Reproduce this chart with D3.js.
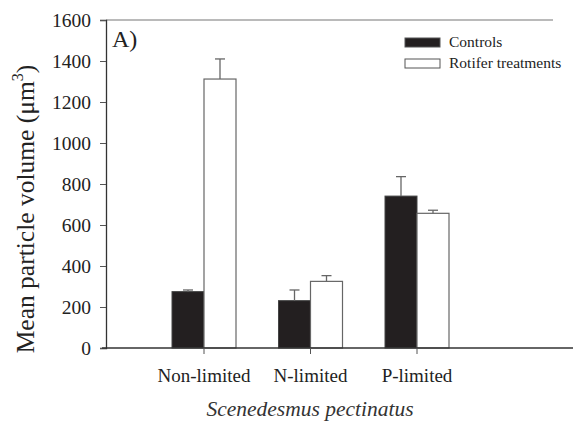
<!DOCTYPE html>
<html>
<head>
<meta charset="utf-8">
<script src="https://cdn.jsdelivr.net/npm/d3@7"></script>
</head>
<body style="margin:0">
<script>
//
// Mean particle volume bar chart
//
const categories = ["Non-limited", "N-limited", "P-limited"]
const seriesNames = ["Controls", "Rotifer treatments"]
const controls = [275, 231, 741]
const controlsErr = [8, 52, 95]
const rotifers = [1312, 325, 657]
const rotifersErr = [98, 28, 15]
const yTicks = [0, 200, 400, 600, 800, 1000, 1200, 1400, 1600]

const width = 573, height = 423
const margin = { left: 106, top: 20, bottom: 75 }
const plotBottom = height - margin.bottom   // 348
const barW = 32
const serif = "'Liberation Serif'"

let svg = d3.select("body")
  .append("svg")
    .attr("width", width)
    .attr("height", height)

// scales
let y = d3.scaleLinear()
  .domain([0, 1600])
  .range([plotBottom, margin.top])

let x = d3.scalePoint()
  .domain(categories)
  .range([204, 417])

// top frame line
svg.append("line")
  .attr("x1", margin.left).attr("x2", 553)
  .attr("y1", y(1600)).attr("y2", y(1600))
  .attr("stroke", "#777").attr("stroke-width", 1.2)

// Y axis
let yAxis = svg.append("g")
  .attr("transform", "translate(" + margin.left + ",0)")
  .call(d3.axisLeft(y).tickValues(yTicks).tickSize(6).tickPadding(9).tickFormat(d3.format("d")))
yAxis.attr("font-family", null).attr("font-size", null)
yAxis.select(".domain").attr("stroke", "#333").attr("stroke-width", 1.3)
yAxis.selectAll(".tick line").attr("stroke", "#555")
yAxis.selectAll(".tick text")
  .style("font-family", serif)
  .style("font-size", "19.5px")
  .attr("fill", "#222")

// bars - controls
svg.selectAll("rect.ctrl")
  .data(controls)
  .enter()
  .append("rect")
    .attr("class", "ctrl")
    .attr("x", function(d, i) { return x(categories[i]) - barW })
    .attr("y", function(d) { return y(d) })
    .attr("width", barW)
    .attr("height", function(d) { return y(0) - y(d) })
    .attr("fill", "#231f20")
    .attr("stroke", "#444")

// bars - rotifer treatments
svg.selectAll("rect.rot")
  .data(rotifers)
  .enter()
  .append("rect")
    .attr("class", "rot")
    .attr("x", function(d, i) { return x(categories[i]) })
    .attr("y", function(d) { return y(d) })
    .attr("width", barW)
    .attr("height", function(d) { return y(0) - y(d) })
    .attr("fill", "#fff")
    .attr("stroke", "#666")
    .attr("stroke-width", 1.2)

// error bars (upper only)
function errorBars(vals, errs, offset) {
  let g = svg.append("g").attr("stroke", "#666").attr("stroke-width", 1.3)
  vals.forEach(function(v, i) {
    const cx = x(categories[i]) + offset
    g.append("line")
      .attr("x1", cx).attr("x2", cx)
      .attr("y1", y(v)).attr("y2", y(v + errs[i]))
    g.append("line")
      .attr("x1", cx - 5).attr("x2", cx + 5)
      .attr("y1", y(v + errs[i])).attr("y2", y(v + errs[i]))
  })
}
errorBars(controls, controlsErr, -barW / 2)
errorBars(rotifers, rotifersErr, barW / 2)

// X axis
svg.append("line")
  .attr("x1", 102).attr("x2", width)
  .attr("y1", plotBottom).attr("y2", plotBottom)
  .attr("stroke", "#333").attr("stroke-width", 1.3)
svg.selectAll("line.xtick")
  .data(categories)
  .enter()
  .append("line")
    .attr("class", "xtick")
    .attr("x1", function(d) { return x(d) })
    .attr("x2", function(d) { return x(d) })
    .attr("y1", plotBottom).attr("y2", plotBottom + 6)
    .attr("stroke", "#555")
svg.selectAll("text.xlab")
  .data(categories)
  .enter()
  .append("text")
    .attr("class", "xlab")
    .attr("x", function(d) { return x(d) })
    .attr("y", 382)
    .attr("text-anchor", "middle")
    .attr("fill", "#222")
    .style("font-family", serif)
    .style("font-size", "19px")
    .text(function(d) { return d })

// axis titles
svg.append("text")
  .attr("x", 310).attr("y", 416)
  .attr("text-anchor", "middle")
  .attr("fill", "#333")
  .style("font-family", serif)
  .style("font-size", "21.5px")
  .style("font-style", "italic")
  .text("Scenedesmus pectinatus")

let yl = svg.append("text")
  .attr("transform", "translate(34,209) rotate(-90)")
  .attr("text-anchor", "middle")
  .attr("fill", "#222")
  .style("font-family", serif)
  .style("font-size", "25.5px")
yl.append("tspan").text("Mean particle volume (\u03bcm")
yl.append("tspan").attr("dy", -11).style("font-size", "16px").text("3")
yl.append("tspan").attr("dy", 11).text(")")

// panel label
svg.append("text")
  .attr("x", 112).attr("y", 47)
  .attr("fill", "#222")
  .style("font-family", serif)
  .style("font-size", "24px")
  .text("A)")

// legend
const legendFill = ["#231f20", "#fff"]
let legend = svg.selectAll("g.leg")
  .data(seriesNames)
  .enter()
  .append("g")
    .attr("class", "leg")
    .attr("transform", function(d, i) { return "translate(405," + (38 + i * 21) + ")" })
legend.append("rect")
  .attr("width", 35).attr("height", 9)
  .attr("fill", function(d, i) { return legendFill[i] })
  .attr("stroke", "#555")
legend.append("text")
  .attr("x", 44).attr("y", 9)
  .attr("fill", "#222")
  .style("font-family", serif)
  .style("font-size", "15.5px")
  .text(function(d) { return d })
</script>
</body>
</html>
